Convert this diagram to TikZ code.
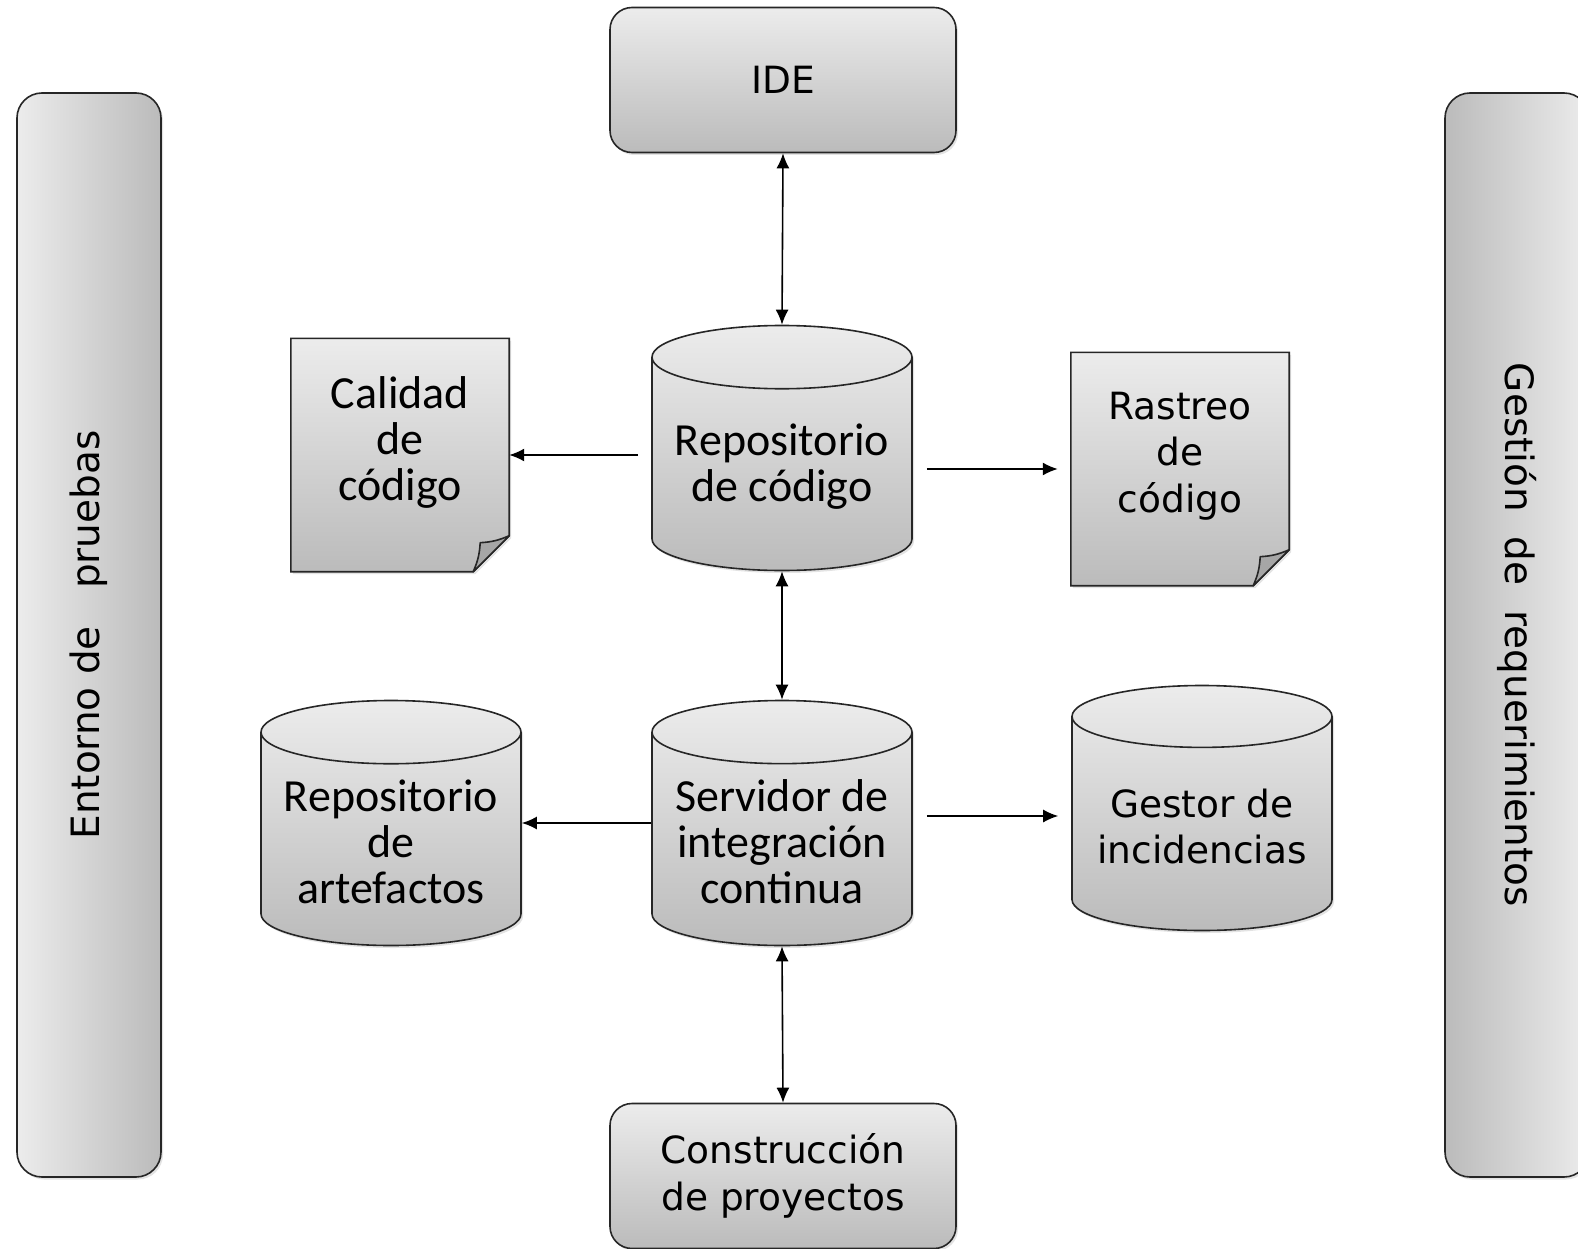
\documentclass[tikz,border=0pt]{standalone}
\usepackage{fontspec}
\setmainfont{DejaVu Sans}
\newfontfamily\carlito{Carlito}
\usetikzlibrary{shapes.geometric, arrows.meta, shadows, backgrounds, calc}

\definecolor{grisclaro}{HTML}{ECECEC}
\definecolor{grisoscuro}{HTML}{BBBBBB}
\definecolor{grispliegue}{HTML}{A6A6A6}
\newcommand{\textoV}{\fontsize{37.5pt}{46.3pt}\selectfont}
\newcommand{\textoB}{\fontsize{39pt}{46.3pt}\selectfont}
\newcommand{\textoC}{\carlito\fontsize{46pt}{46pt}\selectfont}

\begin{document}
\begin{tikzpicture}[x=1pt, y=-1pt,
    sombra/.style={drop shadow={opacity=0.22, shadow xshift=2pt, shadow yshift=-2.5pt}},
    borde/.style={draw=black!85, line width=1.6pt},
    caja/.style={borde, rounded corners=22pt, top color=grisclaro, bottom color=grisoscuro, minimum width=346pt, minimum height=145pt, align=center, font=\textoV, sombra},
    barra/.style={borde, rounded corners=25pt, minimum width=144pt, minimum height=1084pt, inner sep=0pt, font=\textoB, sombra},
    cil/.style={cylinder, shape border rotate=90, aspect=0.29, borde, top color=grisclaro, bottom color=grisoscuro, minimum width=260pt, minimum height=245pt, inner sep=2pt, align=center, anchor=shape center, sombra},
    hoja/.style={minimum width=218pt, minimum height=233pt},
    texto hoja/.style={align=center, yshift=13pt},
    flecha/.style={line width=1.6pt, -{Latex[length=15pt, width=13pt]}},
    doble/.style={line width=1.6pt, {Latex[length=15pt, width=13pt]}-{Latex[length=15pt, width=13pt]}}
]
    \useasboundingbox (0,0) rectangle (1578,1249);

    % Nodes
    \node (entorno) [barra, left color=grisclaro, right color=grisoscuro] at (89,635) {\rotatebox{90}{Entorno de\ \ \ pruebas}};
    \node (gestion) [barra, left color=grisoscuro, right color=grisclaro] at (1517,635) {\rotatebox{-90}{Gestión\ \ de\ \ requerimientos}};
    \node (ide) [caja] at (783,80) {IDE};
    \node (constr) [caja] at (783,1176) {Construcción\\de proyectos};
    \node (repoCod) [cil, font=\textoC] at (782,448) {Repositorio\\de código};
    \node (servidor) [cil, font=\textoC] at (782,823) {Servidor de\\integración\\continua};
    \node (repoArt) [cil, font=\textoC] at (391,823) {Repositorio\\de\\artefactos};
    \node (gestor) [cil, font=\textoV] at (1202,808) {Gestor de\\incidencias};
    \node (calidad) [hoja, label={[texto hoja, font=\textoC]center:Calidad\\de\\código}] at (400,455) {};
    \node (rastreo) [hoja, label={[texto hoja, font=\textoV]center:Rastreo\\de\\código}] at (1180,469) {};

    % Hojas con pliegue
    \begin{scope}[on background layer]
        \fill[white] (0,0) rectangle (1578,1249);
        \foreach \n in {calidad, rastreo} {
            \shade[borde, top color=grisclaro, bottom color=grisoscuro, sombra]
                (\n.north west) -- (\n.north east) -- ([yshift=36pt]\n.south east)
                -- ([xshift=-36pt]\n.south east) -- (\n.south west) -- cycle;
            \filldraw[borde, fill=grispliegue, line join=round]
                ([yshift=36pt]\n.south east) to[bend left=10] ([shift={(-29pt,29pt)}]\n.south east)
                to[bend left=10] ([xshift=-36pt]\n.south east) -- cycle;
        }
    \end{scope}

    % Arrows
    \draw[doble] (ide.south) -- (repoCod.north);
    \draw[doble] (repoCod.south) -- (servidor.north);
    \draw[doble] (servidor.south) -- (constr.north);
    \draw[flecha] ($(repoCod.west |- calidad.east)+(-13,0)$) -- (calidad.east);
    \draw[flecha] ($(repoCod.east |- rastreo.west)+(14,0)$) -- ($(rastreo.west)+(-13,0)$);
    \draw[flecha] (servidor.west |- repoArt.shape center) -- (repoArt.east |- repoArt.shape center);
    \draw[flecha] ($(servidor.east |- gestor.shape center)+(14,8)$) -- ($(gestor.west |- gestor.shape center)+(-13,8)$);
\end{tikzpicture}
\end{document}
